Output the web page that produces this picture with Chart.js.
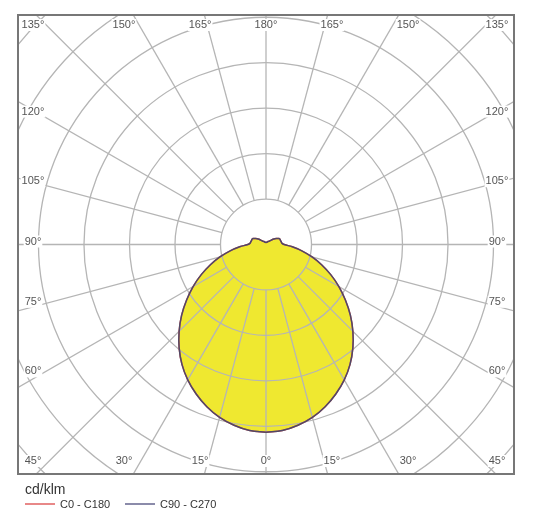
<!DOCTYPE html>
<html>
<head>
<meta charset="utf-8">
<script src="https://cdn.jsdelivr.net/npm/chart.js@4.4.1/dist/chart.umd.min.js"></script>
<style>
  html, body { margin: 0; padding: 0; background: #fff; }
  #wrap { width: 536px; height: 518px; position: relative; }
</style>
</head>
<body>
<div id="wrap"><canvas id="chartPolar"></canvas></div>
<script>
// gamma angles (deg, 0 = nadir) and intensities in cd/klm
const angleDeg = [0, 5, 10, 15, 20, 25, 30, 35, 40, 45, 50, 55, 60, 65, 70, 75, 80, 85, 90,
  95, 100, 105, 110, 115, 120, 125, 130, 135, 140, 145, 150, 155, 160, 165, 170, 175, 180];
const c0c180 = [413, 411, 404, 394, 380, 363, 344, 322, 297, 270, 242, 213, 185, 157, 130, 104, 80, 58, 40,
  35, 34, 33, 33, 31, 26, 21, 15, 11, 9, 8, 7, 6, 5, 5, 5, 5, 5];
const c90c270 = [413, 411, 404, 394, 380, 363, 344, 322, 297, 270, 242, 213, 185, 157, 130, 104, 80, 58, 40,
  35, 34, 33, 33, 31, 26, 21, 15, 11, 9, 8, 7, 6, 5, 5, 5, 5, 5];
const seriesNames = ['C0 - C180', 'C90 - C270'];
const ringValues = [100, 200, 300, 400, 500, 600, 700];
const tickAngles = [0, 15, 30, 45, 60, 75, 90, 105, 120, 135, 150, 165, 180];
const unitLabel = 'cd/klm';

const rad = (d) => (d * Math.PI) / 180;

// closed outline: one half on the right, the other mirrored on the left
function polarPoints(values) {
  const pts = [];
  angleDeg.forEach((a, i) => {
    pts.push({ x: values[i] * Math.sin(rad(a)), y: -values[i] * Math.cos(rad(a)) });
  });
  for (let i = angleDeg.length - 2; i >= 0; i--) {
    const a = angleDeg[i];
    pts.push({ x: -values[i] * Math.sin(rad(a)), y: -values[i] * Math.cos(rad(a)) });
  }
  return pts;
}

const gridColor = '#b5b5b5';
const labelFont = '11px "Liberation Sans", Arial, sans-serif';

const polarGrid = {
  id: 'polarGrid',
  afterDatasetDraw(chart, args) {
    if (args.index !== 0) return; // grid goes over the fill, under the outlines
    const { ctx, chartArea: ca } = chart;
    const xs = chart.scales.x;
    const ys = chart.scales.y;
    const cx = xs.getPixelForValue(0);
    const cy = ys.getPixelForValue(0);
    ctx.save();
    ctx.beginPath();
    ctx.rect(ca.left, ca.top, ca.right - ca.left, ca.bottom - ca.top);
    ctx.clip();
    ctx.strokeStyle = gridColor;
    ctx.lineWidth = 1.3;
    ringValues.forEach((v) => {
      const rx = xs.getPixelForValue(v) - cx;
      const ry = cy - ys.getPixelForValue(v);
      ctx.beginPath();
      ctx.ellipse(cx, cy, rx, ry, 0, 0, Math.PI * 2);
      ctx.stroke();
    });
    for (let a = 0; a < 360; a += 15) {
      const r0 = ringValues[0];
      const r1 = 1200;
      ctx.beginPath();
      ctx.moveTo(xs.getPixelForValue(r0 * Math.sin(rad(a))), ys.getPixelForValue(-r0 * Math.cos(rad(a))));
      ctx.lineTo(xs.getPixelForValue(r1 * Math.sin(rad(a))), ys.getPixelForValue(-r1 * Math.cos(rad(a))));
      ctx.stroke();
    }
    ctx.restore();
  },
  afterDraw(chart) {
    const { ctx, chartArea: ca } = chart;
    const cx = chart.scales.x.getPixelForValue(0);
    const cy = chart.scales.y.getPixelForValue(0) - 3;

    // angle labels pushed out to the frame, with white boxes
    ctx.save();
    ctx.font = labelFont;
    ctx.textAlign = 'center';
    ctx.textBaseline = 'middle';
    const sides = [];
    tickAngles.forEach((a) => {
      sides.push({ a, s: -1 });
      if (a !== 0 && a !== 180) sides.push({ a, s: 1 });
    });
    const halfW = 225;
    const halfH = 246;
    const xMin = ca.left + 15;
    const xMax = ca.right - 17;
    const yMin = ca.top + 10;
    const yMax = ca.bottom - 13;
    sides.forEach(({ a, s }) => {
      const dx = s * Math.sin(rad(a));
      const dy = Math.cos(rad(a));
      const tx = Math.abs(dx) > 1e-9 ? halfW / Math.abs(dx) : Infinity;
      const ty = Math.abs(dy) > 1e-9 ? halfH / Math.abs(dy) : Infinity;
      let x;
      let y;
      if (tx <= ty) {
        x = dx < 0 ? xMin : xMax;
        y = cy + tx * dy;
      } else {
        x = cx + ty * dx;
        y = dy < 0 ? yMin : yMax;
      }
      x = Math.max(xMin, Math.min(xMax, x));
      y = Math.max(yMin, Math.min(yMax, y));
      const txt = `${a}°`;
      const w = ctx.measureText(txt).width + 2;
      ctx.fillStyle = '#fff';
      ctx.fillRect(x - w / 2, y - 6, w, 12);
      ctx.fillStyle = '#555';
      ctx.fillText(txt, x, y);
    });

    // frame
    ctx.strokeStyle = '#777';
    ctx.lineWidth = 2;
    ctx.strokeRect(ca.left, ca.top, ca.right - ca.left, ca.bottom - ca.top);

    // legend
    ctx.textAlign = 'left';
    ctx.fillStyle = '#333';
    ctx.font = '14px "Liberation Sans", Arial, sans-serif';
    ctx.fillText(unitLabel, 25, 490);
    ctx.font = labelFont;
    const legendX = [25, 125];
    [1, 2].forEach((di, k) => {
      const ds = chart.data.datasets[di];
      ctx.strokeStyle = ds.legendColor;
      ctx.lineWidth = 1.5;
      ctx.beginPath();
      ctx.moveTo(legendX[k], 504);
      ctx.lineTo(legendX[k] + 30, 504);
      ctx.stroke();
      ctx.fillStyle = '#333';
      ctx.fillText(ds.label, legendX[k] + 35, 505);
    });
    ctx.restore();
  },
};

const ctx = document.getElementById('chartPolar').getContext('2d');
// eslint-disable-next-line no-undef
const chartInstance = new Chart(ctx, {
  type: 'scatter',
  data: {
    datasets: [
      {
        label: 'fill',
        data: polarPoints(c90c270),
        showLine: true,
        fill: 'shape',
        tension: 0.4,
        backgroundColor: '#efe830',
        borderWidth: 0,
        pointRadius: 0,
        order: 3,
      },
      {
        label: seriesNames[0],
        data: polarPoints(c0c180),
        showLine: true,
        tension: 0.4,
        borderColor: '#e05a5a',
        legendColor: '#e06060',
        borderWidth: 1.5,
        pointRadius: 0,
        order: 2,
      },
      {
        label: seriesNames[1],
        data: polarPoints(c90c270),
        showLine: true,
        tension: 0.4,
        borderColor: '#504866',
        legendColor: '#64648e',
        borderWidth: 1.5,
        pointRadius: 0,
        order: 1,
      },
    ],
  },
  options: {
    responsive: true,
    maintainAspectRatio: false,
    animation: false,
    layout: { padding: { left: 18, top: 15, right: 22, bottom: 44 } },
    scales: {
      x: { type: 'linear', display: false, min: -545, max: 545 },
      y: { type: 'linear', display: false, min: -505, max: 505 },
    },
    plugins: {
      legend: { display: false },
      tooltip: { enabled: false },
    },
  },
  plugins: [polarGrid],
});
</script>
</body>
</html>
